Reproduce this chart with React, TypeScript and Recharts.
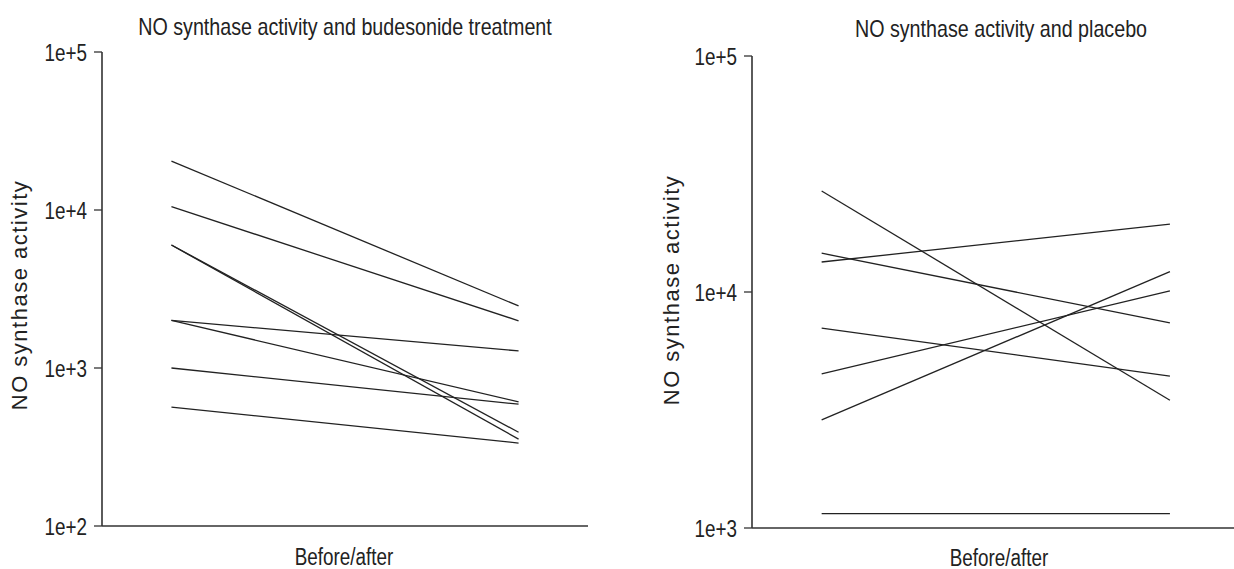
import React from "react";
import { LineChart, Line, XAxis, YAxis } from "recharts";

// Budesonide panel: before/after values per patient
const budBefore = [20400, 10500, 6000, 6000, 2000, 2000, 1000, 566];
const budAfter = [2470, 1990, 392, 355, 1282, 610, 590, 335];
// Placebo panel
const plaBefore = [26800, 13400, 14600, 7030, 4500, 2870, 1150];
const plaAfter = [3480, 19400, 7400, 4400, 10100, 12200, 1150];

const timePoints = [1, 2];
const budTicks = [100, 1000, 10000, 100000];
const plaTicks = [1000, 10000, 100000];

const budTitle = "NO synthase activity and budesonide treatment";
const plaTitle = "NO synthase activity and placebo";
const yLabel = "NO synthase activity";
const xLabel = "Before/after";

const sans = "'Liberation Sans', Arial, Helvetica, sans-serif";
const SQUEEZE = 0.82;

function buildRows(before: number[], after: number[]) {
  return timePoints.map((t, i) => {
    const row: Record<string, number> = { t };
    before.forEach((v, k) => {
      row["s" + k] = i === 0 ? v : after[k];
    });
    return row;
  });
}

const fmt = (v: number) => "1e+" + Math.round(Math.log10(v));

const axisStroke = "#333";
const lineStroke = "#222";

function NarrowTick(props: any) {
  const { x, y, payload } = props;
  return (
    <g transform={`translate(${x},${y})`}>
      <text
        transform={`scale(${SQUEEZE},1)`}
        textAnchor="end"
        dy="0.38em"
        fill="#222"
        style={{ fontSize: 23, fontFamily: sans }}
      >
        {fmt(payload.value)}
      </text>
    </g>
  );
}

function Panel(props: {
  left: number;
  width: number;
  yAxisWidth: number;
  top: number;
  bottomH: number;
  right: number;
  domainX: [number, number];
  domainY: [number, number];
  ticks: number[];
  before: number[];
  after: number[];
}) {
  const rows = buildRows(props.before, props.after);
  return (
    <div style={{ position: "absolute", left: props.left, top: 0 }}>
      <LineChart
        width={props.width}
        height={569}
        data={rows}
        margin={{ top: props.top, right: props.right, bottom: 0, left: 0 }}
      >
        <XAxis
          dataKey="t"
          type="number"
          domain={props.domainX}
          allowDataOverflow
          tick={false}
          tickLine={false}
          height={props.bottomH}
          axisLine={{ stroke: axisStroke, strokeWidth: 1.6 }}
        />
        <YAxis
          scale="log"
          type="number"
          domain={props.domainY}
          allowDataOverflow
          ticks={props.ticks}
          tickFormatter={fmt}
          width={props.yAxisWidth}
          tickSize={8}
          tickMargin={7}
          axisLine={{ stroke: axisStroke, strokeWidth: 1.6 }}
          tickLine={{ stroke: axisStroke, strokeWidth: 1.3 }}
          tick={<NarrowTick />}
        />
        {props.before.map((_, k) => (
          <Line
            key={k}
            dataKey={"s" + k}
            stroke={lineStroke}
            strokeWidth={1.3}
            dot={false}
            isAnimationActive={false}
          />
        ))}
      </LineChart>
    </div>
  );
}

const textBase: React.CSSProperties = {
  position: "absolute",
  whiteSpace: "nowrap",
  color: "#222",
  lineHeight: 1,
  fontFamily: sans,
};

export default function App() {
  return (
    <div
      style={{
        position: "absolute",
        left: 0,
        top: 0,
        width: 1234,
        height: 569,
        background: "#fff",
        overflow: "hidden",
      }}
    >
      <Panel
        left={0}
        width={620}
        yAxisWidth={102}
        top={52}
        bottomH={43}
        right={32}
        domainX={[0.8, 2.2]}
        domainY={[100, 100000]}
        ticks={budTicks}
        before={budBefore}
        after={budAfter}
      />
      <Panel
        left={620}
        width={614}
        yAxisWidth={132}
        top={56}
        bottomH={41}
        right={0}
        domainX={[0.8, 2.184]}
        domainY={[1000, 100000]}
        ticks={plaTicks}
        before={plaBefore}
        after={plaAfter}
      />
      {/* titles */}
      <div style={{ ...textBase, left: 345, top: 27, transform: `translate(-50%, -50%) scaleX(${SQUEEZE})`, fontSize: 24 }}>
        {budTitle}
      </div>
      <div style={{ ...textBase, left: 1001, top: 29, transform: `translate(-50%, -50%) scaleX(${SQUEEZE})`, fontSize: 24 }}>
        {plaTitle}
      </div>
      {/* x labels */}
      <div style={{ ...textBase, left: 344, top: 557, transform: `translate(-50%, -50%) scaleX(${SQUEEZE})`, fontSize: 23 }}>
        {xLabel}
      </div>
      <div style={{ ...textBase, left: 999, top: 558, transform: `translate(-50%, -50%) scaleX(${SQUEEZE})`, fontSize: 23 }}>
        {xLabel}
      </div>
      {/* y labels */}
      <div style={{ ...textBase, left: 20, top: 295, transform: "translate(-50%, -50%) rotate(-90deg)", fontSize: 22, letterSpacing: 1.5 }}>
        {yLabel}
      </div>
      <div style={{ ...textBase, left: 672, top: 290, transform: "translate(-50%, -50%) rotate(-90deg)", fontSize: 22, letterSpacing: 1.5 }}>
        {yLabel}
      </div>
    </div>
  );
}
